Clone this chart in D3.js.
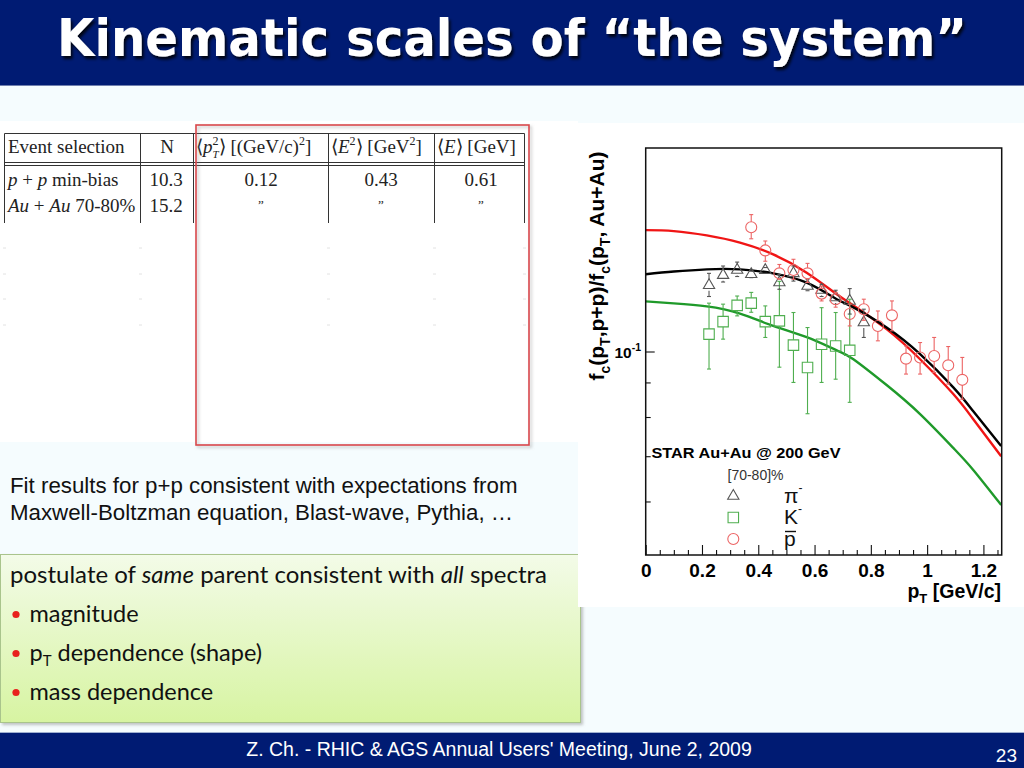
<!DOCTYPE html>
<html>
<head>
<meta charset="utf-8">
<script src="https://cdnjs.cloudflare.com/ajax/libs/d3/7.8.5/d3.min.js"></script>
<style>
body { margin: 0; background: #f5fcfe; }
svg { display: block; }
</style>
</head>
<body>
<svg id="slide" width="1024" height="768"></svg>
<script>
// ---- data ----
var xTicks = [0, 0.2, 0.4, 0.6, 0.8, 1.0, 1.2];
var xTickLabels = ["0", "0.2", "0.4", "0.6", "0.8", "1", "1.2"];
var xMinor = [0.05, 0.1, 0.15, 0.25, 0.3, 0.35, 0.45, 0.5, 0.55, 0.65, 0.7, 0.75,
              0.85, 0.9, 0.95, 1.05, 1.1, 1.15, 1.25];
var yMajor = [0.1];
var yMinor = [0.06, 0.07, 0.08, 0.09];

// fit curves (pT, ratio)
var curvePt = [0, 0.1, 0.217, 0.335, 0.453, 0.572, 0.679, 0.738, 0.856, 0.975, 1.093, 1.164, 1.263];
var curveRed =   [0.1512, 0.1507, 0.1485, 0.1449, 0.1392, 0.1308, 0.1215, 0.1170, 0.1079, 0.0974, 0.0865, 0.0794, 0.0700];
var curveBlack = [0.1301, 0.1313, 0.1323, 0.1323, 0.1305, 0.1264, 0.1195, 0.1162, 0.1085, 0.0991, 0.0885, 0.0816, 0.0725];
var curveGreen = [0.1186, 0.1178, 0.1166, 0.1138, 0.1091, 0.1050, 0.1004, 0.0974, 0.0892, 0.0808, 0.0720, 0.0668, 0.0593];

// pi- points
var piPt  = [0.225, 0.275, 0.325, 0.375, 0.425, 0.475, 0.525, 0.575, 0.625, 0.675, 0.725, 0.775];
var piVal = [0.1253, 0.1297, 0.1320, 0.1301, 0.1319, 0.1265, 0.1305, 0.1250, 0.1233, 0.1202, 0.1188, 0.1104];
var piLo  = [0.1206, 0.1267, 0.1291, 0.1286, 0.1305, 0.1236, 0.1271, 0.1230, 0.1206, 0.1174, 0.1136, 0.1049];
var piHi  = [0.1305, 0.1338, 0.1356, 0.1316, 0.1331, 0.1300, 0.1338, 0.1279, 0.1257, 0.1232, 0.1239, 0.1155];

// K- points
var kPt  = [0.225, 0.275, 0.325, 0.375, 0.425, 0.475, 0.525, 0.575, 0.625, 0.675, 0.725];
var kVal = [0.1061, 0.1107, 0.1170, 0.1179, 0.1107, 0.1110, 0.1022, 0.0947, 0.1025, 0.1019, 0.1004];
var kLo  = [0.0942, 0.1043, 0.1129, 0.1143, 0.1049, 0.0948, 0.0900, 0.0809, 0.0900, 0.0910, 0.0841];
var kHi  = [0.1179, 0.1175, 0.1208, 0.1223, 0.1168, 0.1270, 0.1142, 0.1085, 0.1161, 0.1142, 0.1195];

// pbar points
var pPt  = [0.375, 0.425, 0.475, 0.525, 0.575, 0.625, 0.675, 0.725, 0.775, 0.825, 0.875, 0.925, 0.975, 1.025, 1.075, 1.125];
var pVal = [0.1527, 0.1411, 0.1305, 0.1320, 0.1305, 0.1218, 0.1195, 0.1136, 0.1155, 0.1091, 0.1131, 0.0976, 0.0980, 0.0985, 0.0954, 0.0908];
var pLo  = [0.1468, 0.1360, 0.1279, 0.1279, 0.1265, 0.1188, 0.1163, 0.1091, 0.1112, 0.1037, 0.1073, 0.0926, 0.0926, 0.0931, 0.0895, 0.0850];
var pHi  = [0.1594, 0.1457, 0.1345, 0.1369, 0.1350, 0.1250, 0.1223, 0.1175, 0.1195, 0.1148, 0.1188, 0.1019, 0.1031, 0.1049, 0.1017, 0.0980];

// table
var tableHead = ["Event selection", "N"];
var tableRows = ["p+p min-bias", "Au+Au 70-80%"];
var tableN = ["10.3", "15.2"];
var tablePt2 = ["0.12", "\u201D"];
var tableE2 = ["0.43", "\u201D"];
var tableE = ["0.61", "\u201D"];

var fitLines = ["Fit results for p+p consistent with expectations from",
                "Maxwell-Boltzman equation, Blast-wave, Pythia, \u2026"];
var bullets = ["magnitude", "dependence (shape)", "mass dependence"];

var NAVY = "#001b73";

var svg = d3.select("#slide");
var defs = svg.append("defs");

var shadow = defs.append("filter").attr("id", "tshadow")
    .attr("x", "-5%").attr("y", "-20%").attr("width", "110%").attr("height", "150%");
shadow.append("feDropShadow").attr("dx", 2).attr("dy", 3)
    .attr("stdDeviation", 1.5).attr("flood-color", "#000").attr("flood-opacity", 0.85);

var boxShadow = defs.append("filter").attr("id", "bshadow")
    .attr("x", "-5%").attr("y", "-5%").attr("width", "110%").attr("height", "115%");
boxShadow.append("feDropShadow").attr("dx", 2).attr("dy", 2)
    .attr("stdDeviation", 1.5).attr("flood-color", "#888").attr("flood-opacity", 0.5);

var grad = defs.append("linearGradient").attr("id", "greenbox")
    .attr("x1", 0).attr("y1", 0).attr("x2", 0).attr("y2", 1);
grad.append("stop").attr("offset", "0%").attr("stop-color", "#f3fbe8");
grad.append("stop").attr("offset", "100%").attr("stop-color", "#d7f4a2");

// background
svg.append("rect").attr("width", 1024).attr("height", 768).attr("fill", "#f5fcfe");

// title bar
svg.append("rect").attr("width", 1024).attr("height", 85).attr("fill", NAVY);
svg.append("line").attr("x1", 0).attr("x2", 1024).attr("y1", 85.5).attr("y2", 85.5)
    .attr("stroke", "#6f7fae").attr("stroke-width", 1);
svg.append("text")
    .attr("x", 512).attr("y", 56)
    .attr("text-anchor", "middle")
    .attr("font-family", "'DejaVu Sans Condensed', 'DejaVu Sans', sans-serif")
    .attr("font-stretch", "condensed")
    .attr("font-weight", "bold")
    .attr("font-size", 52)
    .attr("textLength", 910)
    .attr("lengthAdjust", "spacingAndGlyphs")
    .attr("fill", "#fff")
    .attr("filter", "url(#tshadow)")
    .text("Kinematic scales of \u201Cthe system\u201D");

// footer
svg.append("rect").attr("y", 733).attr("width", 1024).attr("height", 35).attr("fill", NAVY);
svg.append("line").attr("x1", 0).attr("x2", 1024).attr("y1", 732.5).attr("y2", 732.5)
    .attr("stroke", "#9fb0d0").attr("stroke-width", 1);
svg.append("text").attr("x", 499).attr("y", 756)
    .attr("text-anchor", "middle")
    .attr("font-family", "'Liberation Sans', Arial, sans-serif")
    .attr("font-size", 19.5).attr("fill", "#fff")
    .text("Z. Ch. - RHIC & AGS Annual Users' Meeting, June 2, 2009");
svg.append("text").attr("x", 1017).attr("y", 762)
    .attr("text-anchor", "end")
    .attr("font-family", "'Liberation Sans', Arial, sans-serif")
    .attr("font-size", 19).attr("fill", "#fff")
    .text("23");

// ---- table ----
svg.append("rect").attr("x", 0).attr("y", 121).attr("width", 578).attr("height", 321).attr("fill", "#fff");

var tbl = svg.append("g")
    .attr("font-family", "'Liberation Serif', 'Times New Roman', serif")
    .attr("font-size", 19)
    .attr("fill", "#222");

var colX = [4.5, 140.5, 193.5, 328.5, 434.5, 524.5];
tbl.append("line").attr("x1", colX[0]).attr("x2", colX[5]).attr("y1", 133.5).attr("y2", 133.5)
    .attr("stroke", "#333");
[162.5, 165.5].forEach(function(yy) {
    tbl.append("line").attr("x1", colX[0]).attr("x2", colX[5]).attr("y1", yy).attr("y2", yy)
        .attr("stroke", "#333");
});
colX.forEach(function(cx) {
    tbl.append("line").attr("x1", cx).attr("x2", cx).attr("y1", 133.5).attr("y2", 223)
        .attr("stroke", "#333");
});
// faint remnant dots of the cut table
[248, 274, 299, 325].forEach(function(yy) {
    colX.forEach(function(cx, i) {
        if (i == 2) return;
        tbl.append("line").attr("x1", cx - 1.5).attr("x2", cx + 1.5).attr("y1", yy).attr("y2", yy)
            .attr("stroke", "#e2e2e2");
    });
});

tbl.append("text").attr("x", 8).attr("y", 153).text(tableHead[0]);
tbl.append("text").attr("x", 167).attr("y", 153).attr("text-anchor", "middle").text(tableHead[1]);

var h1 = tbl.append("text").attr("x", 196).attr("y", 153);
h1.append("tspan").text("\u27E8");
h1.append("tspan").attr("font-style", "italic").text("p");
h1.append("tspan").attr("font-size", 12).attr("dy", -8).text("2");
h1.append("tspan").attr("font-size", 11).attr("font-style", "italic").attr("dx", -6).attr("dy", 13).text("T");
h1.append("tspan").attr("dy", -5).text("\u27E9 [(GeV/c)");
h1.append("tspan").attr("font-size", 12).attr("dy", -8).text("2");
h1.append("tspan").attr("dy", 8).text("]");

var h2 = tbl.append("text").attr("x", 331).attr("y", 153);
h2.append("tspan").text("\u27E8");
h2.append("tspan").attr("font-style", "italic").text("E");
h2.append("tspan").attr("font-size", 12).attr("dy", -8).text("2");
h2.append("tspan").attr("dy", 8).text("\u27E9 [GeV");
h2.append("tspan").attr("font-size", 12).attr("dy", -8).text("2");
h2.append("tspan").attr("dy", 8).text("]");

var h3 = tbl.append("text").attr("x", 437).attr("y", 153);
h3.append("tspan").text("\u27E8");
h3.append("tspan").attr("font-style", "italic").text("E");
h3.append("tspan").text("\u27E9 [GeV]");

var rowY = [186, 212];
tableRows.forEach(function(r, i) {
    var t = tbl.append("text").attr("x", 8).attr("y", rowY[i]);
    var parts = r.split(" ");
    var pair = parts[0].split("+");
    t.append("tspan").attr("font-style", "italic").text(pair[0]);
    t.append("tspan").text(" + ");
    t.append("tspan").attr("font-style", "italic").text(pair[1]);
    t.append("tspan").text(" " + parts.slice(1).join(" "));
    tbl.append("text").attr("x", 166).attr("y", rowY[i]).attr("text-anchor", "middle").text(tableN[i]);
    var cells = [tablePt2[i], tableE2[i], tableE[i]];
    [261, 381, 481].forEach(function(cx, j) {
        tbl.append("text").attr("x", cx).attr("y", rowY[i] - (i == 1 ? 3 : 0))
            .attr("text-anchor", "middle")
            .attr("font-size", i == 1 ? 13 : 19)
            .text(cells[j]);
    });
});

// red highlight box
svg.append("rect").attr("x", 196).attr("y", 125).attr("width", 333).attr("height", 320)
    .attr("fill", "none").attr("stroke", "#d9474a").attr("stroke-width", 1.6)
    .attr("filter", "url(#bshadow)");

// ---- text blocks ----
fitLines.forEach(function(l, i) {
    svg.append("text").attr("x", 10).attr("y", 493 + i * 27)
        .attr("font-family", "'Liberation Sans', Arial, sans-serif")
        .attr("font-size", 22.3).attr("fill", "#111")
        .text(l);
});

svg.append("rect").attr("x", 0.5).attr("y", 554.5).attr("width", 580).attr("height", 168)
    .attr("fill", "url(#greenbox)").attr("stroke", "#a9c48c").attr("stroke-width", 1)
    .attr("filter", "url(#bshadow)");

var gb = svg.append("g")
    .attr("font-family", "Lato, 'Open Sans', sans-serif")
    .attr("font-size", 23.5).attr("fill", "#111");
var l0 = gb.append("text").attr("x", 10).attr("y", 583).attr("textLength", 537).attr("lengthAdjust", "spacingAndGlyphs");
l0.append("tspan").text("postulate of ");
l0.append("tspan").attr("font-style", "italic").text("same");
l0.append("tspan").text(" parent consistent with ");
l0.append("tspan").attr("font-style", "italic").text("all");
l0.append("tspan").text(" spectra");

var bulletY = [622, 661, 700];
bulletY.forEach(function(by, i) {
    gb.append("circle").attr("cx", 16).attr("cy", by - 7.5).attr("r", 3.6).attr("fill", "#e8211d");
    var t = gb.append("text").attr("x", 29.5).attr("y", by);
    if (i == 1) {
        t.append("tspan").text("p");
        t.append("tspan").attr("font-size", 15).attr("dy", 5).text("T");
        t.append("tspan").attr("dy", -5).text(" " + bullets[i]);
    } else {
        t.text(bullets[i]);
    }
});

// ---- chart ----
svg.append("rect").attr("x", 578).attr("y", 123).attr("width", 446).attr("height", 484).attr("fill", "#fff");

var x = d3.scaleLinear().domain([0, 1.265]).range([645.7, 1001.7]);
var y = d3.scaleLog().domain([0.05, 0.2]).range([555, 148]);

var chart = svg.append("g");

var line = d3.line()
    .x(function(d) { return x(d[0]); })
    .y(function(d) { return y(d[1]); })
    .curve(d3.curveNatural);

function zip(a, b) { return a.map(function(v, i) { return [v, b[i]]; }); }

var curves = [
    { vals: curveGreen, color: "#1f9a2a" },
    { vals: curveRed, color: "#f01515" },
    { vals: curveBlack, color: "#000" }
];
curves.forEach(function(c) {
    chart.append("path").datum(zip(curvePt, c.vals))
        .attr("d", line)
        .attr("fill", "none")
        .attr("stroke", c.color)
        .attr("stroke-width", 2.4);
});

var series = [
    { pt: kPt, v: kVal, lo: kLo, hi: kHi, color: "#4fae4f", sym: d3.symbolSquare, size: 110, r: 5.3 },
    { pt: piPt, v: piVal, lo: piLo, hi: piHi, color: "#555", sym: d3.symbolTriangle, size: 55, r: 5.5 },
    { pt: pPt, v: pVal, lo: pLo, hi: pHi, color: "#ec6464", sym: d3.symbolCircle, size: 95, r: 5.5 }
];

series.forEach(function(s) {
    var pts = s.pt.map(function(p, i) { return { x: p, v: s.v[i], lo: s.lo[i], hi: s.hi[i] }; });
    var g = chart.append("g").attr("stroke", s.color).attr("fill", "none").attr("stroke-width", 1.1);
    var pg = g.selectAll(".pt").data(pts).enter().append("g").attr("class", "pt");
    pg.append("line")
        .attr("x1", function(d) { return x(d.x); }).attr("x2", function(d) { return x(d.x); })
        .attr("y1", function(d) { return y(d.hi); })
        .attr("y2", function(d) { return y(d.v) - s.r; })
        .attr("display", function(d) { return y(d.hi) < y(d.v) - s.r ? null : "none"; });
    pg.append("line")
        .attr("x1", function(d) { return x(d.x); }).attr("x2", function(d) { return x(d.x); })
        .attr("y1", function(d) { return y(d.v) + s.r; })
        .attr("y2", function(d) { return y(d.lo); })
        .attr("display", function(d) { return y(d.lo) > y(d.v) + s.r ? null : "none"; });
    [ "hi", "lo" ].forEach(function(k) {
        pg.append("line")
            .attr("x1", function(d) { return x(d.x) - 2; }).attr("x2", function(d) { return x(d.x) + 2; })
            .attr("y1", function(d) { return y(d[k]); }).attr("y2", function(d) { return y(d[k]); });
    });
    pg.append("path")
        .attr("d", d3.symbol().type(s.sym).size(s.size))
        .attr("transform", function(d) { return "translate(" + x(d.x) + "," + y(d.v) + ")"; });
});

// frame
chart.append("rect").attr("x", 645.7).attr("y", 148).attr("width", 356).attr("height", 407)
    .attr("fill", "none").attr("stroke", "#111").attr("stroke-width", 1.5);

// axes
var xAxis = chart.append("g").attr("transform", "translate(0,555)")
    .call(d3.axisBottom(x).tickValues(xTicks).tickSize(-10).tickPadding(9)
        .tickFormat(function(d, i) { return xTickLabels[i]; }));
chart.append("g").attr("transform", "translate(0,555)")
    .call(d3.axisBottom(x).tickValues(xMinor).tickSize(-5).tickFormat(""));
var yAxis = chart.append("g").attr("transform", "translate(645.7,0)")
    .call(d3.axisLeft(y).tickValues(yMajor).tickSize(-9).tickFormat(""));
chart.append("g").attr("transform", "translate(645.7,0)")
    .call(d3.axisLeft(y).tickValues(yMinor).tickSize(-5).tickFormat(""));
chart.selectAll(".domain").remove();
chart.selectAll(".tick line").attr("stroke", "#111").attr("stroke-width", 1.1);
xAxis.selectAll("text")
    .attr("font-family", "'Liberation Sans', Arial, sans-serif")
    .attr("font-weight", "bold").attr("font-size", 19).attr("fill", "#000");

yMajor.forEach(function(v) {
    var t = chart.append("text").attr("x", 641).attr("y", y(v) + 6)
        .attr("text-anchor", "end")
        .attr("font-family", "'Liberation Sans', Arial, sans-serif")
        .attr("font-weight", "bold").attr("font-size", 15.5);
    t.append("tspan").text("10");
    t.append("tspan").attr("font-size", 10.5).attr("dy", -7).text("-1");
});

// axis titles
var yl = chart.append("text")
    .attr("transform", "translate(604,266) rotate(-90)")
    .attr("text-anchor", "middle")
    .attr("font-family", "'Liberation Sans', Arial, sans-serif")
    .attr("font-weight", "bold").attr("font-size", 21);
[["f", 0], ["c", 1], ["(p", 0], ["T", 1], [",p+p)/f", 0], ["c", 1], ["(p", 0], ["T", 1], [", Au+Au)", 0]]
    .forEach(function(p, i, arr) {
        var prev = i > 0 ? arr[i - 1][1] : 0;
        var dy = (p[1] - prev) * 6;
        var ts = yl.append("tspan").text(p[0]);
        if (dy) ts.attr("dy", dy);
        if (p[1]) ts.attr("font-size", 14);
    });

var xl = chart.append("text").attr("x", 1001).attr("y", 598)
    .attr("text-anchor", "end")
    .attr("font-family", "'Liberation Sans', Arial, sans-serif")
    .attr("font-weight", "bold").attr("font-size", 19.5);
xl.append("tspan").text("p");
xl.append("tspan").attr("font-size", 13).attr("dy", 5).text("T");
xl.append("tspan").attr("dy", -5).text(" [GeV/c]");

// legend
var leg = chart.append("g").attr("font-family", "'Liberation Sans', Arial, sans-serif");
leg.append("text").attr("x", 651.5).attr("y", 457.5)
    .attr("font-weight", "bold").attr("font-size", 15.5)
    .attr("textLength", 189).attr("lengthAdjust", "spacingAndGlyphs")
    .text("STAR Au+Au @ 200 GeV");
leg.append("text").attr("x", 727.5).attr("y", 480)
    .attr("font-size", 14).attr("fill", "#333").text("[70-80]%");

var legItems = [
    { s: series[1], y: 496, label: "\u03C0", sup: "-" },
    { s: series[0], y: 517.5, label: "K", sup: "-" },
    { s: series[2], y: 539, label: "p", sup: "" }
];
legItems.forEach(function(it) {
    leg.append("path")
        .attr("d", d3.symbol().type(it.s.sym).size(it.s.size))
        .attr("transform", "translate(733.3," + it.y + ")")
        .attr("fill", "none").attr("stroke", it.s.color).attr("stroke-width", 1.1);
    var t = leg.append("text").attr("x", 784).attr("y", it.y + 6.5)
        .attr("font-size", 21).attr("fill", "#111");
    t.append("tspan").text(it.label);
    if (it.sup) t.append("tspan").attr("font-size", 12).attr("dy", -11).text(it.sup);
});
// bar over the p
leg.append("line").attr("x1", 785).attr("x2", 796).attr("y1", 531.5).attr("y2", 531.5)
    .attr("stroke", "#111").attr("stroke-width", 1.4);
</script>
</body>
</html>
